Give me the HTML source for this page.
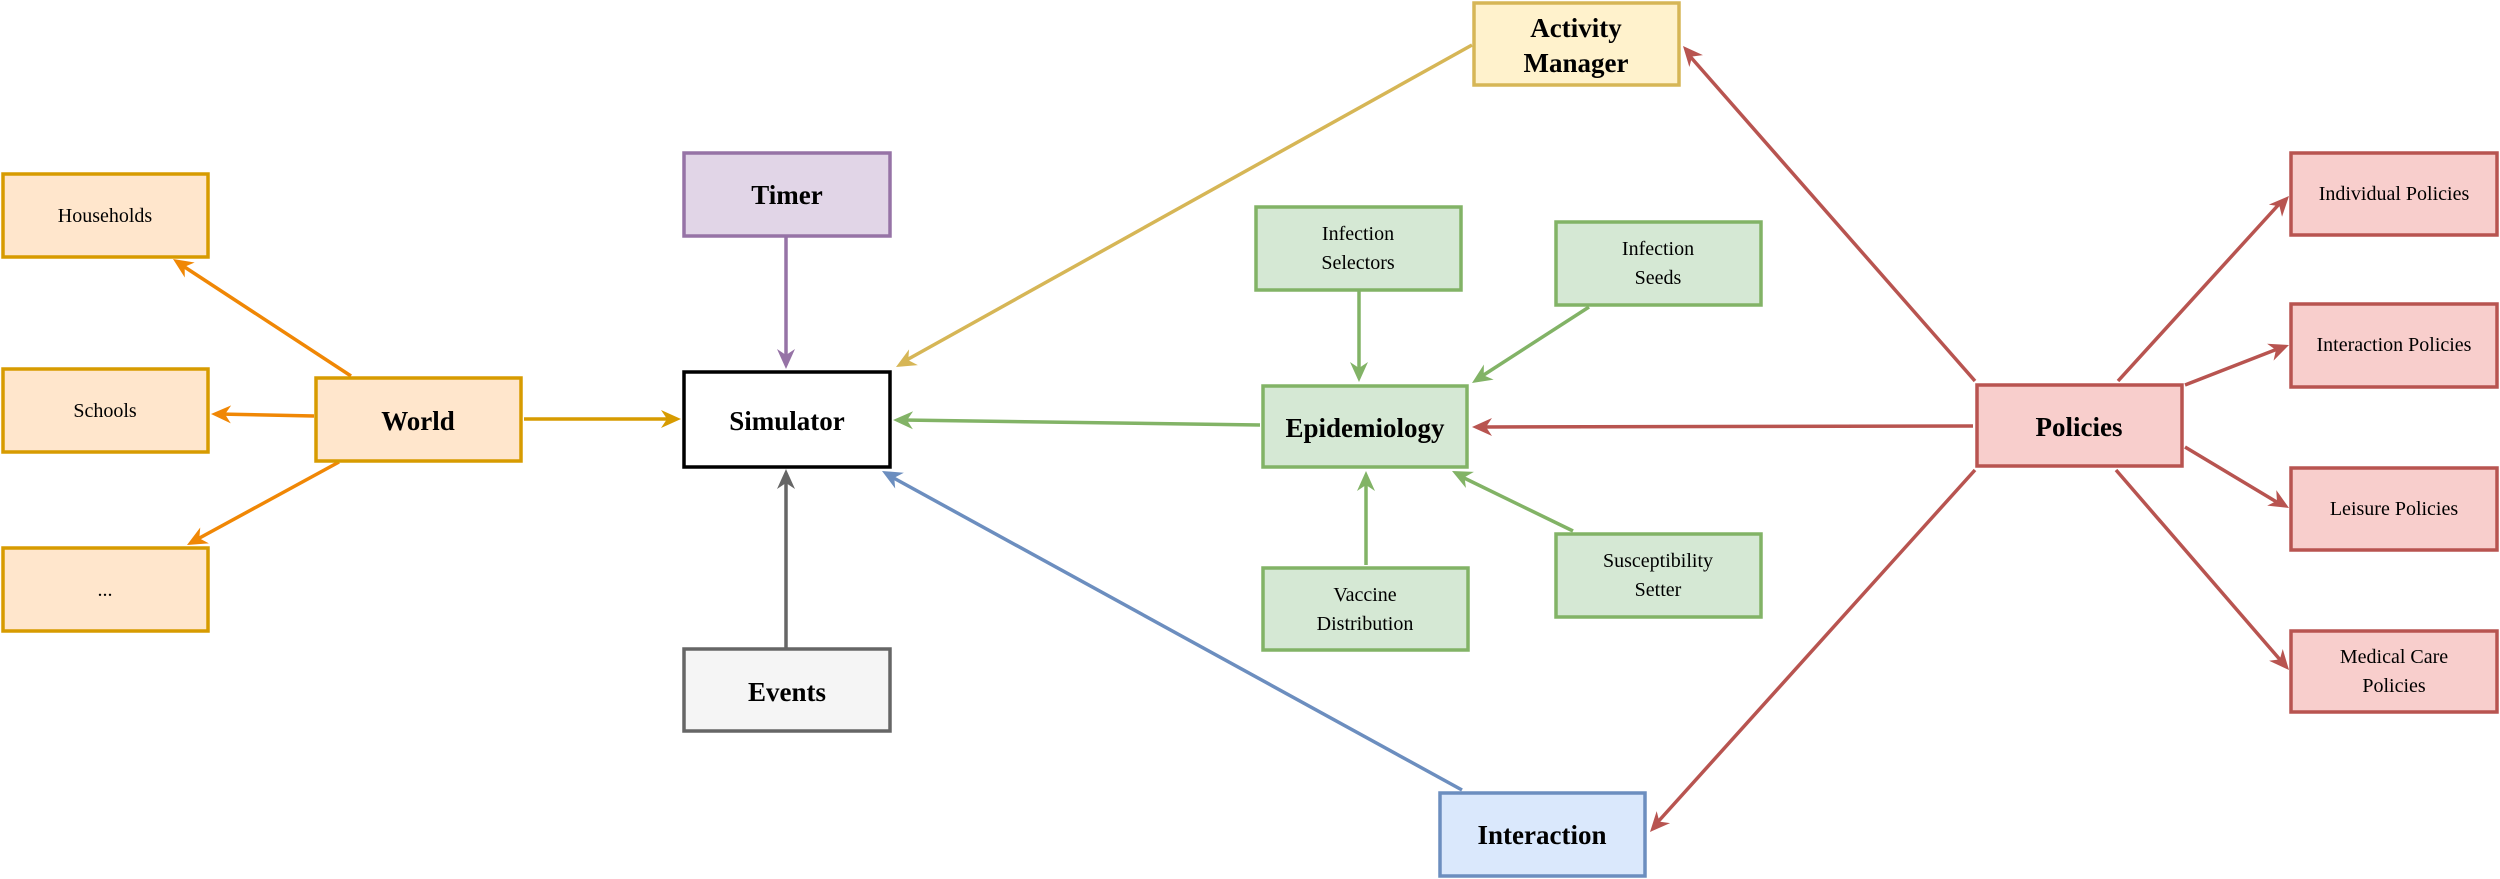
<!DOCTYPE html>
<html><head><meta charset="utf-8"><style>
html,body{margin:0;padding:0;background:#fff}
svg{display:block}
text{font-family:"Liberation Serif",serif;text-anchor:middle;dominant-baseline:central}
.b{font-weight:bold;font-size:27px}
.s{font-size:20px}
</style></head><body>
<svg width="2500" height="879" viewBox="0 0 2500 879" xmlns="http://www.w3.org/2000/svg">
<defs>
<marker id="mo" viewBox="0 0 10 10" refX="9" refY="5" markerWidth="7" markerHeight="7" markerUnits="userSpaceOnUse" orient="auto" style="overflow:visible"><path d="M0,0 L10,5 L0,10 L3,5z" fill="#f08705" transform="scale(2.2) translate(-5.5,-2.7)"/></marker>
</defs>
<g fill="none" stroke-width="3.5">
<!-- lines -->
<g stroke="#f08705">
<line x1="351" y1="376" x2="180" y2="264"/>
<line x1="314" y1="416" x2="218" y2="414"/>
<line x1="339" y1="462" x2="194" y2="541"/>
</g>
<line x1="524" y1="419" x2="672" y2="419" stroke="#d79b00"/>
<line x1="786" y1="236" x2="786" y2="360" stroke="#9673a6"/>
<line x1="786" y1="649" x2="786" y2="478" stroke="#666666"/>
<line x1="1472" y1="45" x2="903" y2="362" stroke="#d6b656"/>
<line x1="1260" y1="425" x2="902" y2="420" stroke="#82b366"/>
<line x1="1462" y1="790" x2="890" y2="476" stroke="#6c8ebf"/>
<g stroke="#82b366">
<line x1="1359" y1="291" x2="1359" y2="373"/>
<line x1="1589" y1="307" x2="1479" y2="378"/>
<line x1="1366" y1="565" x2="1366" y2="480"/>
<line x1="1573" y1="531" x2="1460" y2="476"/>
</g>
<g stroke="#b85450">
<line x1="1975" y1="381" x2="1688" y2="54"/>
<line x1="1973" y1="426" x2="1481" y2="427"/>
<line x1="1975" y1="470" x2="1656" y2="824"/>
<line x1="2118" y1="381" x2="2281" y2="202"/>
<line x1="2185" y1="385" x2="2280" y2="348"/>
<line x1="2185" y1="447" x2="2280" y2="504"/>
<line x1="2116" y1="470" x2="2282" y2="662"/>
</g>
</g>
<!-- arrowheads -->
<g id="heads">
</g>
<script>
(function(){
var hs=[[351,376,173,259,"#f08705"],[314,416,211,414,"#f08705"],[339,462,187,545,"#f08705"],
[524,419,681,419,"#d79b00"],[786,236,786,369,"#9673a6"],[786,649,786,469,"#666666"],
[1472,45,896,367,"#d6b656"],[1260,425,893,420,"#82b366"],[1462,790,882,471,"#6c8ebf"],
[1359,291,1359,382,"#82b366"],[1589,307,1472,383,"#82b366"],[1366,565,1366,471,"#82b366"],[1573,531,1452,471,"#82b366"],
[1975,381,1683,46,"#b85450"],[1973,426,1472,427,"#b85450"],[1975,470,1650,832,"#b85450"],
[2118,381,2289,196,"#b85450"],[2185,385,2289,345,"#b85450"],[2185,447,2289,508,"#b85450"],[2116,470,2289,670,"#b85450"]];
var g=document.getElementById("heads"),ns="http://www.w3.org/2000/svg";
hs.forEach(function(h){var a=Math.atan2(h[3]-h[1],h[2]-h[0])*180/Math.PI;
var p=document.createElementNS(ns,"path");p.setAttribute("d","M0,0 L-20,-9 L-14,0 L-20,9z");
p.setAttribute("fill",h[4]);p.setAttribute("transform","translate("+h[2]+","+h[3]+") rotate("+a+")");g.appendChild(p);});
})();
</script>
<!-- boxes -->
<g stroke-width="3.5">
<rect x="3" y="174" width="205" height="83" fill="#ffe6cc" stroke="#d79b00"/>
<rect x="3" y="369" width="205" height="83" fill="#ffe6cc" stroke="#d79b00"/>
<rect x="3" y="548" width="205" height="83" fill="#ffe6cc" stroke="#d79b00"/>
<rect x="316" y="378" width="205" height="83" fill="#ffe6cc" stroke="#d79b00"/>
<rect x="684" y="372" width="206" height="95" fill="#fff" stroke="#000"/>
<rect x="684" y="153" width="206" height="83" fill="#e1d5e7" stroke="#9673a6"/>
<rect x="684" y="649" width="206" height="82" fill="#f5f5f5" stroke="#666666"/>
<rect x="1474" y="3" width="205" height="82" fill="#fff2cc" stroke="#d6b656"/>
<rect x="1256" y="207" width="205" height="83" fill="#d5e8d4" stroke="#82b366"/>
<rect x="1556" y="222" width="205" height="83" fill="#d5e8d4" stroke="#82b366"/>
<rect x="1263" y="386" width="204" height="81" fill="#d5e8d4" stroke="#82b366"/>
<rect x="1263" y="568" width="205" height="82" fill="#d5e8d4" stroke="#82b366"/>
<rect x="1556" y="534" width="205" height="83" fill="#d5e8d4" stroke="#82b366"/>
<rect x="1440" y="793" width="205" height="83" fill="#dae8fc" stroke="#6c8ebf"/>
<rect x="1977" y="385" width="205" height="81" fill="#f8cecc" stroke="#b85450"/>
<rect x="2291" y="153" width="206" height="82" fill="#f8cecc" stroke="#b85450"/>
<rect x="2291" y="304" width="206" height="83" fill="#f8cecc" stroke="#b85450"/>
<rect x="2291" y="468" width="206" height="82" fill="#f8cecc" stroke="#b85450"/>
<rect x="2291" y="631" width="206" height="81" fill="#f8cecc" stroke="#b85450"/>
</g>
<!-- text -->
<text class="s" x="105" y="216">Households</text>
<text class="s" x="105" y="411">Schools</text>
<text class="s" x="105" y="590">...</text>
<text class="b" x="418" y="421">World</text>
<text class="b" x="787" y="421">Simulator</text>
<text class="b" x="787" y="195">Timer</text>
<text class="b" x="787" y="692">Events</text>
<text class="b" x="1576" y="28">Activity</text>
<text class="b" x="1576" y="63">Manager</text>
<text class="s" x="1358" y="234">Infection</text>
<text class="s" x="1358" y="263">Selectors</text>
<text class="s" x="1658" y="249">Infection</text>
<text class="s" x="1658" y="278">Seeds</text>
<text class="b" x="1365" y="428">Epidemiology</text>
<text class="s" x="1365" y="595">Vaccine</text>
<text class="s" x="1365" y="624">Distribution</text>
<text class="s" x="1658" y="561">Susceptibility</text>
<text class="s" x="1658" y="590">Setter</text>
<text class="b" x="1542" y="835">Interaction</text>
<text class="b" x="2079" y="427">Policies</text>
<text class="s" x="2394" y="194">Individual Policies</text>
<text class="s" x="2394" y="345">Interaction Policies</text>
<text class="s" x="2394" y="509">Leisure Policies</text>
<text class="s" x="2394" y="657">Medical Care</text>
<text class="s" x="2394" y="686">Policies</text>
</svg>
</body></html>
